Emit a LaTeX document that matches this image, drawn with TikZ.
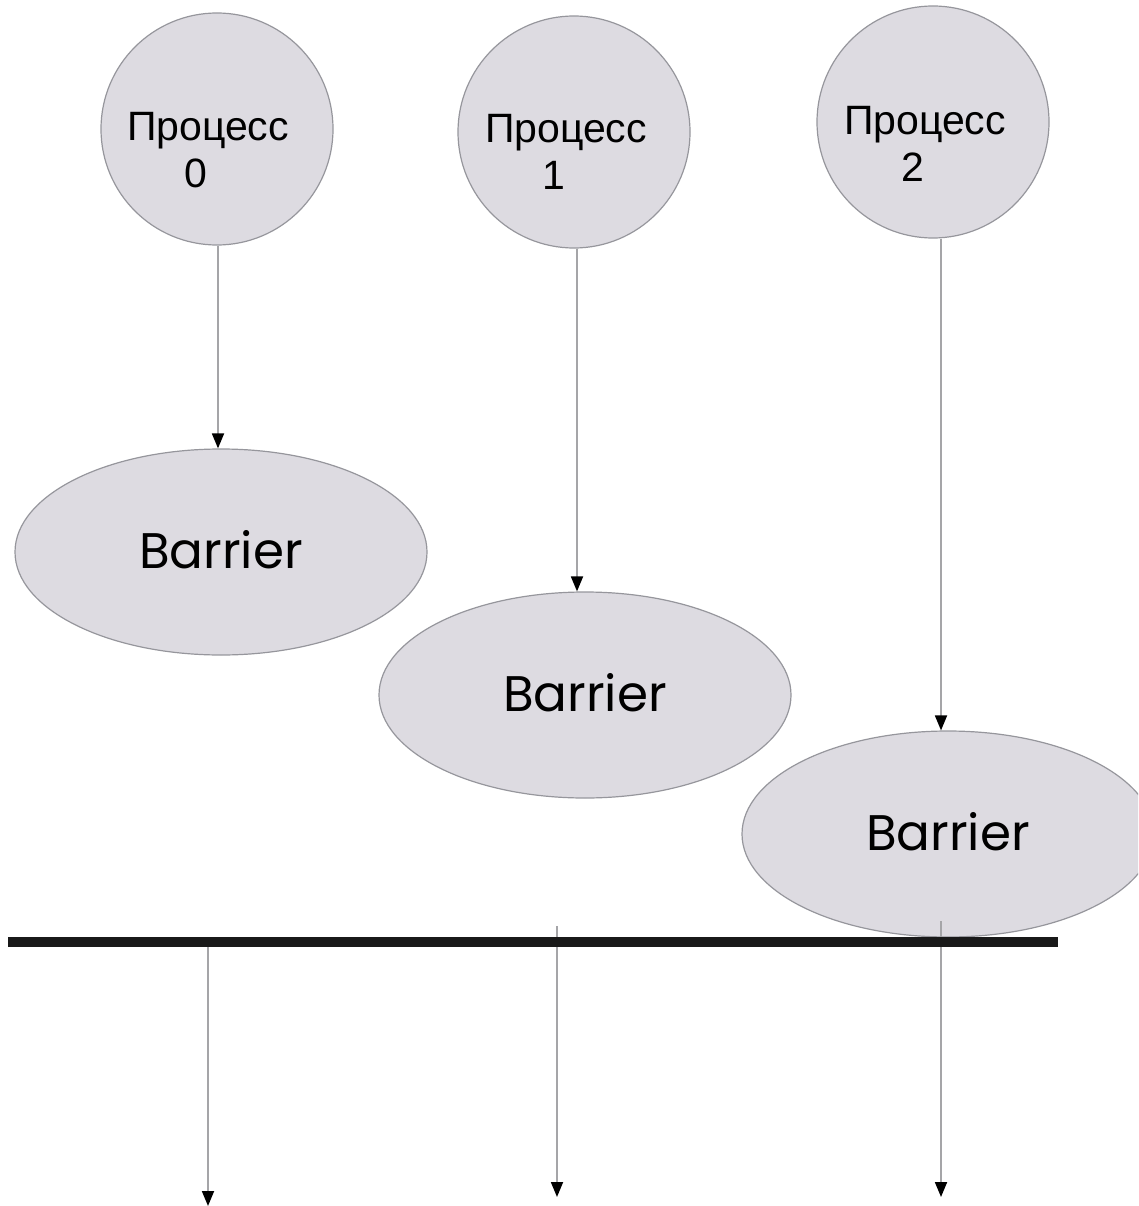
\documentclass[tikz,border=0pt]{standalone}
\usepackage{fontspec}
\setmainfont{Liberation Sans}
\newfontfamily\geofont{Poppins}
\usetikzlibrary{shapes.geometric,arrows.meta}
\definecolor{bubble}{RGB}{221,219,225}
\definecolor{rim}{RGB}{150,150,156}
\definecolor{wire}{RGB}{165,165,168}
\begin{document}
\begin{tikzpicture}[x=1pt,y=-1pt,
  proc/.style={circle,draw=rim,line width=1.2pt,fill=bubble,minimum size=232pt,inner sep=0pt},
  proclabel/.style={align=center,font=\fontsize{41}{47}\selectfont,inner sep=0pt},
  barrier/.style={ellipse,draw=rim,line width=1.2pt,fill=bubble,minimum width=412pt,minimum height=206pt,inner sep=0pt,text depth=6pt,font=\geofont\fontsize{50}{54}\selectfont},
  flow/.style={draw=wire,line width=1.8pt,-{Triangle[length=15pt,width=12pt,color=black,fill=black]}},
  syncbar/.style={line width=10pt,draw=black!90}]
\useasboundingbox (0,0) rectangle (1138,1206);
\clip (0,0) rectangle (1138,1206);

% processes
\node[proc] (p0) at (217,129) {};
\node[proc] (p1) at (574,132) {};
\node[proc] (p2) at (933,122) {};
\node[proclabel] (t0) at (208,150) {Процесс\\\makebox[1.17em][l]{0}};
\node[proclabel] (t1) at (566,152) {Процесс\\\makebox[1.17em][l]{1}};
\node[proclabel] (t2) at (925,144) {Процесс\\\makebox[1.17em][l]{2}};

% barriers
\node[barrier] (b0) at (221,552) {Barrier};
\node[barrier] (b1) at (585,695) {Barrier};
\node[barrier] (b2) at (948,834) {Barrier};

% process -> barrier
\draw[flow] ([xshift=1pt]p0.south) -- ([xshift=1pt]p0.south |- b0.north);
\draw[flow] ([xshift=3pt]p1.south) -- ([xshift=3pt]p1.south |- b1.north);
\draw[flow] ([xshift=8pt]p2.south) -- ([xshift=8pt]p2.south |- b2.north);

% continuation after the barrier
\coordinate (o0s) at (208,942);  \coordinate (o0e) at (208,1206);
\coordinate (o1s) at (557,926);  \coordinate (o1e) at (557,1197);
\coordinate (o2s) at (941,921);  \coordinate (o2e) at (941,1197);
\draw[flow] (o0s) -- (o0e);
\draw[flow] (o1s) -- (o1e);
\draw[flow] (o2s) -- (o2e);

% synchronisation line
\coordinate (barW) at (8,942);
\coordinate (barE) at (1058,942);
\draw[syncbar] (barW) -- (barE);
\end{tikzpicture}
\end{document}
